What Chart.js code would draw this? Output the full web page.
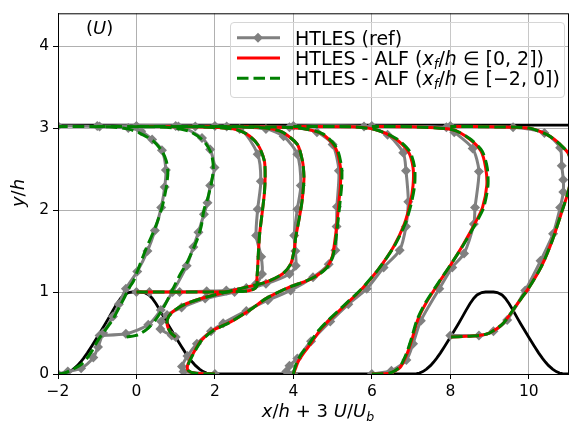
<!DOCTYPE html>
<html lang="en">
<head>
    <meta charset="UTF-8">
    <title>HTLES - ALF velocity profiles (U)</title>
    <script src="https://cdn.jsdelivr.net/npm/chart.js"></script>
    <style>
        html, body { margin: 0; padding: 0; background: #fff; }
        #wrap { position: relative; width: 573px; height: 426px; font-family: "DejaVu Sans", sans-serif; color: #000; }
        #wrap canvas { position: absolute; left: 0; top: 0; }
        .lbl { position: absolute; white-space: nowrap; font-size: 18px; line-height: 20px; }
        .lbl i { font-style: italic; }
        .lbl sub { font-size: 70%; font-style: italic; vertical-align: -0.3em; line-height: 0; }
        .leg { font-size: 19px; }
        .legend {
            position: absolute; left: 230px; top: 22px; width: 335px; height: 76px;
            box-sizing: border-box; border: 1px solid #d6d6d6; border-radius: 4px;
            background: rgba(255, 255, 255, 0.3);
        }
    </style>
</head>
<body>
<div id="wrap">
    <canvas id="chart" width="573" height="426"></canvas>

    <div class="lbl" style="left:86px; top:18px;">(<i>U</i>)</div>

    <div class="legend"></div>
    <svg style="position:absolute; left:230px; top:22px;" width="60" height="76">
        <line x1="7" y1="15.7" x2="50" y2="15.7" stroke="#808080" stroke-width="3"/>
        <polygon points="28,10.7 33,15.7 28,20.7 23,15.7" fill="#808080"/>
        <line x1="7" y1="36" x2="50" y2="36" stroke="#ff0000" stroke-width="3"/>
        <line x1="7" y1="56.3" x2="50" y2="56.3" stroke="#008000" stroke-width="3" stroke-dasharray="11.5 5"/>
    </svg>
    <div class="lbl leg" style="left:295px; top:27.5px;">HTLES (ref)</div>
    <div class="lbl leg" style="left:295px; top:47.5px;">HTLES - ALF (<i>x</i><sub>f</sub>/<i>h</i> ∈ [0, 2])</div>
    <div class="lbl leg" style="left:295px; top:68px;">HTLES - ALF (<i>x</i><sub>f</sub>/<i>h</i> ∈ [−2, 0])</div>

    <div class="lbl" style="left:218px; top:401px; width:200px; text-align:center;"><i>x</i>/<i>h</i> + 3 <i>U</i>/<i>U</i><sub>b</sub></div>
    <div class="lbl" style="left:-32px; top:183px; width:100px; text-align:center; transform:rotate(-90deg);"><i>y</i>/<i>h</i></div>
</div>

<script>
    // hill geometry: half profile measured from the crest (x/h, y/h)
    const hillDx = [0, 0.1, 0.2, 0.32, 0.4, 0.5, 0.6, 0.714, 0.8, 0.9, 1.0, 1.071, 1.15, 1.25, 1.35, 1.43, 1.5, 1.607, 1.7, 1.786, 1.86, 1.93];
    const hillH  = [1.0, 1.0, 0.994, 0.964, 0.925, 0.857, 0.776, 0.678, 0.607, 0.527, 0.448, 0.393, 0.333, 0.258, 0.19, 0.143, 0.105, 0.06, 0.03, 0.012, 0.004, 0.0];
    const hillCrests = [0, 9];
    const topWallY = 3.036;
    const xRange = [-2, 11];

    // HTLES (ref) -- x/h + 3 U/Ub and y/h, one pair per station
    const refX_m2 = [-2.0, -1.75, -1.41, -1.1, -0.98, -0.85, -0.6, -0.45, -0.27, 0.02, 0.28, 0.47, 0.63, 0.72, 0.75, 0.65, 0.40, 0.12, -0.21, -0.94, -2.0];
    const refY_m2 = [0.0, 0.03, 0.07, 0.2, 0.33, 0.5, 0.7, 0.85, 1.04, 1.25, 1.5, 1.75, 2.03, 2.28, 2.49, 2.73, 2.86, 2.96, 3.0, 3.02, 3.025];
    const refX_m1 = [-0.94, -0.27, 0.3, 0.62, 0.92, 1.28, 1.45, 1.58, 1.72, 1.81, 1.88, 1.99, 1.88, 1.67, 1.07, -1.0];
    const refY_m1 = [0.47, 0.49, 0.6, 0.78, 1.0, 1.32, 1.55, 1.73, 1.95, 2.09, 2.3, 2.52, 2.74, 2.88, 3.02, 3.025];
    const refX_0 = [0.0, 0.33, 1.1, 1.79, 2.29, 2.8, 3.05, 3.2, 3.18, 3.05, 3.09, 3.17, 3.09, 2.63, 1.5, 0.0];
    const refY_0 = [1.0, 1.0, 1.0, 1.01, 1.02, 1.05, 1.1, 1.22, 1.43, 1.69, 2.01, 2.35, 2.68, 2.99, 3.02, 3.025];
    const refX_1 = [1.0, 0.9, 0.61, 0.63, 0.78, 1.15, 1.75, 2.5, 3.3, 3.9, 4.06, 4.05, 4.02, 4.1, 4.19, 4.1, 3.75, 3.3, 2.3, 1.0];
    const refY_1 = [0.45, 0.47, 0.55, 0.64, 0.72, 0.81, 0.92, 1.0, 1.1, 1.22, 1.32, 1.5, 1.69, 2.01, 2.3, 2.68, 2.9, 2.99, 3.02, 3.025];
    const refX_2 = [2.0, 1.2, 1.16, 1.3, 1.54, 1.9, 2.21, 2.8, 3.35, 3.93, 4.5, 4.9, 5.07, 5.1, 5.11, 5.16, 5.0, 4.6, 3.9, 2.0];
    const refY_2 = [0.0, 0.03, 0.09, 0.22, 0.37, 0.52, 0.62, 0.77, 0.9, 1.02, 1.18, 1.34, 1.51, 1.8, 2.04, 2.48, 2.8, 2.95, 3.01, 3.025];
    const refX_4 = [4.0, 3.82, 3.9, 4.1, 4.45, 4.94, 5.4, 5.87, 6.3, 6.71, 6.87, 6.93, 6.87, 6.8, 6.4, 5.8, 4.0];
    const refY_4 = [0.0, 0.03, 0.1, 0.19, 0.4, 0.64, 0.85, 1.04, 1.3, 1.51, 1.8, 2.1, 2.48, 2.7, 2.92, 3.02, 3.025];
    const refX_6 = [6.0, 6.5, 6.88, 7.05, 7.25, 7.72, 8.05, 8.35, 8.6, 8.63, 8.73, 8.57, 8.1, 7.9, 6.0];
    const refY_6 = [0.0, 0.04, 0.17, 0.37, 0.65, 1.04, 1.3, 1.47, 1.83, 2.03, 2.47, 2.75, 2.95, 3.01, 3.025];
    const refX_8 = [8.0, 8.73, 9.1, 9.45, 9.91, 10.3, 10.62, 10.8, 10.88, 10.88, 10.84, 10.8, 10.4, 9.6, 8.0];
    const refY_8 = [0.47, 0.47, 0.52, 0.66, 1.02, 1.38, 1.71, 2.03, 2.22, 2.37, 2.54, 2.76, 2.94, 3.01, 3.025];

    // HTLES - ALF, forcing in x_f/h in [0, 2] (domain starts at x/h = 0)
    const alfAX_0 = [0.0, 1.0, 2.0, 2.6, 2.9, 3.04, 3.08, 3.07, 3.09, 3.11, 3.14, 3.2, 3.26, 3.28, 3.26, 3.09, 2.8, 2.46, 1.5, 0.0];
    const alfAY_0 = [1.0, 1.0, 1.0, 1.005, 1.02, 1.05, 1.09, 1.15, 1.3, 1.5, 1.71, 1.95, 2.2, 2.4, 2.6, 2.8, 2.93, 2.99, 3.015, 3.02];
    const alfAX_1 = [1.0, 0.88, 0.8, 0.78, 0.82, 0.95, 1.28, 1.79, 2.46, 2.8, 3.3, 3.72, 3.93, 4.02, 4.06, 4.13, 4.21, 4.25, 4.27, 4.23, 4.1, 3.72, 3.3, 2.5, 1.0];
    const alfAY_1 = [0.45, 0.5, 0.57, 0.63, 0.7, 0.77, 0.86, 0.94, 1.02, 1.06, 1.12, 1.22, 1.34, 1.51, 1.67, 1.85, 2.07, 2.25, 2.4, 2.6, 2.8, 2.95, 3.0, 3.015, 3.02];
    const alfAX_2 = [2.0, 1.5, 1.32, 1.3, 1.36, 1.48, 1.65, 1.95, 2.42, 2.95, 3.3, 3.9, 4.3, 4.6, 4.85, 4.99, 5.05, 5.11, 5.16, 5.2, 5.2, 5.07, 4.73, 4.15, 3.0, 2.0];
    const alfAY_2 = [0.0, 0.01, 0.04, 0.1, 0.17, 0.28, 0.41, 0.53, 0.64, 0.8, 0.92, 1.06, 1.13, 1.2, 1.3, 1.43, 1.6, 1.83, 2.1, 2.3, 2.52, 2.76, 2.93, 3.0, 3.015, 3.02];
    const alfAX_4 = [4.0, 4.05, 4.12, 4.27, 4.43, 4.67, 4.92, 5.32, 5.75, 6.17, 6.55, 6.82, 6.97, 7.05, 7.05, 6.92, 6.6, 6.1, 5.5, 4.0];
    const alfAY_4 = [0.0, 0.06, 0.15, 0.26, 0.36, 0.53, 0.66, 0.84, 1.04, 1.28, 1.55, 1.82, 2.07, 2.3, 2.52, 2.72, 2.87, 2.98, 3.015, 3.02];
    const alfAX_6 = [6.0, 6.45, 6.72, 6.9, 7.04, 7.17, 7.4, 7.73, 8.06, 8.33, 8.62, 8.82, 8.93, 8.9, 8.78, 8.48, 8.06, 7.0, 6.0];
    const alfAY_6 = [0.0, 0.01, 0.08, 0.25, 0.45, 0.66, 0.88, 1.13, 1.37, 1.58, 1.83, 2.03, 2.3, 2.52, 2.72, 2.87, 2.98, 3.015, 3.02];
    const alfAX_8 = [8.02, 8.4, 8.73, 9.0, 9.35, 9.7, 10.0, 10.33, 10.6, 10.85, 11.02, 11.08, 11.02, 10.8, 10.5, 10.0, 9.0, 8.0];
    const alfAY_8 = [0.45, 0.46, 0.47, 0.5, 0.62, 0.85, 1.05, 1.32, 1.63, 1.99, 2.25, 2.45, 2.68, 2.8, 2.91, 3.0, 3.015, 3.02];

    // HTLES - ALF, forcing in x_f/h in [-2, 0] (domain starts at x/h = -2)
    const alfBX_m2 = [-2.0, -1.85, -1.7, -1.37, -1.15, -0.97, -0.61, -0.43, -0.3, -0.2, -0.07, 0.06, 0.23, 0.48, 0.65, 0.75, 0.8, 0.76, 0.65, 0.43, 0.12, -0.22, -0.7, -2.0];
    const alfBY_m2 = [0.0, 0.01, 0.04, 0.13, 0.27, 0.42, 0.66, 0.82, 0.94, 1.04, 1.14, 1.3, 1.51, 1.79, 2.03, 2.25, 2.45, 2.6, 2.72, 2.84, 2.93, 2.99, 3.015, 3.02];
    const alfBX_m1 = [-0.25, 0.05, 0.3, 0.5, 0.7, 0.88, 1.12, 1.28, 1.54, 1.65, 1.72, 1.82, 1.92, 1.96, 1.9, 1.7, 1.35, 1.0, 0.5, -1.0];
    const alfBY_m1 = [0.45, 0.48, 0.56, 0.67, 0.82, 0.99, 1.22, 1.35, 1.63, 1.8, 2.0, 2.15, 2.35, 2.52, 2.7, 2.85, 2.96, 3.0, 3.015, 3.02];
    const alfBX_0 = [0.0, 1.0, 2.0, 2.6, 2.9, 3.04, 3.08, 3.07, 3.09, 3.11, 3.14, 3.2, 3.26, 3.28, 3.26, 3.09, 2.8, 2.46, 1.5, 0.0];
    const alfBY_0 = [1.0, 1.0, 1.0, 1.005, 1.02, 1.05, 1.09, 1.15, 1.3, 1.5, 1.71, 1.95, 2.2, 2.4, 2.6, 2.8, 2.93, 2.99, 3.015, 3.02];
    const alfBX_1 = [1.0, 0.88, 0.8, 0.78, 0.82, 0.95, 1.28, 1.79, 2.46, 2.8, 3.3, 3.72, 3.93, 4.02, 4.06, 4.13, 4.21, 4.25, 4.27, 4.23, 4.1, 3.72, 3.3, 2.5, 1.0];
    const alfBY_1 = [0.45, 0.5, 0.57, 0.63, 0.7, 0.77, 0.86, 0.94, 1.02, 1.06, 1.12, 1.22, 1.34, 1.51, 1.67, 1.85, 2.07, 2.25, 2.4, 2.6, 2.8, 2.95, 3.0, 3.015, 3.02];
    const alfBX_2 = [2.0, 1.5, 1.33, 1.31, 1.37, 1.49, 1.66, 1.96, 2.42, 2.95, 3.3, 3.9, 4.3, 4.6, 4.86, 5.0, 5.07, 5.13, 5.19, 5.23, 5.23, 5.1, 4.75, 4.15, 3.0, 2.0];
    const alfBY_2 = [0.0, 0.01, 0.04, 0.1, 0.17, 0.28, 0.41, 0.53, 0.64, 0.8, 0.92, 1.06, 1.13, 1.2, 1.3, 1.43, 1.6, 1.83, 2.1, 2.3, 2.52, 2.76, 2.93, 3.0, 3.015, 3.02];
    const alfBX_4 = [4.0, 4.03, 4.09, 4.23, 4.39, 4.64, 4.9, 5.3, 5.74, 6.17, 6.56, 6.84, 7.0, 7.09, 7.09, 6.96, 6.63, 6.1, 5.5, 4.0];
    const alfBY_4 = [0.0, 0.06, 0.15, 0.26, 0.36, 0.53, 0.66, 0.84, 1.04, 1.28, 1.55, 1.82, 2.07, 2.3, 2.52, 2.72, 2.87, 2.98, 3.015, 3.02];
    const alfBX_6 = [6.0, 6.45, 6.7, 6.88, 7.02, 7.15, 7.38, 7.72, 8.06, 8.34, 8.64, 8.85, 8.96, 8.94, 8.81, 8.5, 8.06, 7.0, 6.0];
    const alfBY_6 = [0.0, 0.01, 0.08, 0.25, 0.45, 0.66, 0.88, 1.13, 1.37, 1.58, 1.83, 2.03, 2.3, 2.52, 2.72, 2.87, 2.98, 3.015, 3.02];
    const alfBX_8 = [8.02, 8.4, 8.73, 9.0, 9.35, 9.7, 10.0, 10.33, 10.6, 10.85, 11.02, 11.08, 11.02, 10.8, 10.5, 10.0, 9.0, 8.0];
    const alfBY_8 = [0.45, 0.46, 0.47, 0.5, 0.62, 0.85, 1.05, 1.32, 1.63, 1.99, 2.25, 2.45, 2.68, 2.8, 2.91, 3.0, 3.015, 3.02];

    const toPoints = (xs, ys) => xs.map((x, i) => ({ x: x, y: ys[i] }));

    // lower wall: flat floor plus the two hills, mirrored about each crest
    function wallPoints() {
        const pts = [{ x: xRange[0], y: 0 }];
        hillCrests.forEach(c => {
            for (let i = hillDx.length - 1; i > 0; i--) pts.push({ x: c - hillDx[i], y: hillH[i] });
            for (let i = 0; i < hillDx.length; i++) pts.push({ x: c + hillDx[i], y: hillH[i] });
        });
        pts.push({ x: xRange[1], y: 0 });
        return pts;
    }

    const GREY = '#808080', RED = '#ff0000', GREEN = '#008000';

    function refSet(xs, ys) {
        return {
            data: toPoints(xs, ys), showLine: true, borderColor: GREY, borderWidth: 3,
            pointStyle: 'rectRot', pointRadius: 5, pointBackgroundColor: GREY, pointBorderWidth: 0,
            tension: 0.25, borderJoinStyle: 'round', order: 3
        };
    }
    function alfSet(xs, ys, color, dashed) {
        return {
            data: toPoints(xs, ys), showLine: true, borderColor: color, borderWidth: 3,
            borderDash: dashed ? [11.5, 5] : [], pointRadius: 0, tension: 0.25,
            borderJoinStyle: 'round', order: dashed ? 1 : 2
        };
    }

    const datasets = [
        { data: wallPoints(), showLine: true, borderColor: '#000', borderWidth: 2.8, pointRadius: 0, order: 4 },
        { data: [{ x: xRange[0], y: topWallY }, { x: xRange[1], y: topWallY }], showLine: true, borderColor: '#000', borderWidth: 2.8, pointRadius: 0, order: 4 },

        refSet(refX_m2, refY_m2), refSet(refX_m1, refY_m1), refSet(refX_0, refY_0), refSet(refX_1, refY_1),
        refSet(refX_2, refY_2), refSet(refX_4, refY_4), refSet(refX_6, refY_6), refSet(refX_8, refY_8),

        alfSet(alfAX_0, alfAY_0, RED), alfSet(alfAX_1, alfAY_1, RED), alfSet(alfAX_2, alfAY_2, RED),
        alfSet(alfAX_4, alfAY_4, RED), alfSet(alfAX_6, alfAY_6, RED), alfSet(alfAX_8, alfAY_8, RED),

        alfSet(alfBX_m2, alfBY_m2, GREEN, true), alfSet(alfBX_m1, alfBY_m1, GREEN, true),
        alfSet(alfBX_0, alfBY_0, GREEN, true), alfSet(alfBX_1, alfBY_1, GREEN, true),
        alfSet(alfBX_2, alfBY_2, GREEN, true), alfSet(alfBX_4, alfBY_4, GREEN, true),
        alfSet(alfBX_6, alfBY_6, GREEN, true), alfSet(alfBX_8, alfBY_8, GREEN, true)
    ];

    // black frame on top of the lines, like the matplotlib spines
    const frame = {
        id: 'frame',
        afterDatasetsDraw(chart) {
            const a = chart.chartArea, ctx = chart.ctx;
            ctx.save();
            ctx.strokeStyle = '#000';
            ctx.lineWidth = 1;
            ctx.strokeRect(a.left + 0.5, a.top + 0.5, a.right - a.left, a.bottom - a.top);
            ctx.restore();
        }
    };

    const tickFont = { family: 'DejaVu Sans', size: 15.5 };
    const minus = v => String(v).replace('-', '\u2212');

    new Chart(document.getElementById('chart'), {
        type: 'scatter',
        data: { datasets: datasets },
        options: {
            responsive: false,
            animation: false,
            layout: { padding: { top: 12, right: 0, left: 0, bottom: 0 } },
            plugins: { legend: { display: false }, tooltip: { enabled: false } },
            scales: {
                x: {
                    type: 'linear', min: xRange[0], max: xRange[1],
                    afterFit(s) { s.height = 52; },
                    ticks: { stepSize: 2, includeBounds: false, color: '#000', font: tickFont, padding: 4, maxRotation: 0, callback: minus },
                    grid: { color: '#b0b0b0', lineWidth: 1, tickLength: 5, tickColor: '#000' },
                    border: { color: '#000', width: 1 }
                },
                y: {
                    type: 'linear', min: 0, max: 4.4,
                    afterFit(s) { s.width = 58; },
                    ticks: { stepSize: 1, includeBounds: false, color: '#000', font: tickFont, padding: 4, callback: minus },
                    grid: { color: '#b0b0b0', lineWidth: 1, tickLength: 5, tickColor: '#000' },
                    border: { color: '#000', width: 1 }
                }
            }
        },
        plugins: [frame]
    });
</script>
</body>
</html>
